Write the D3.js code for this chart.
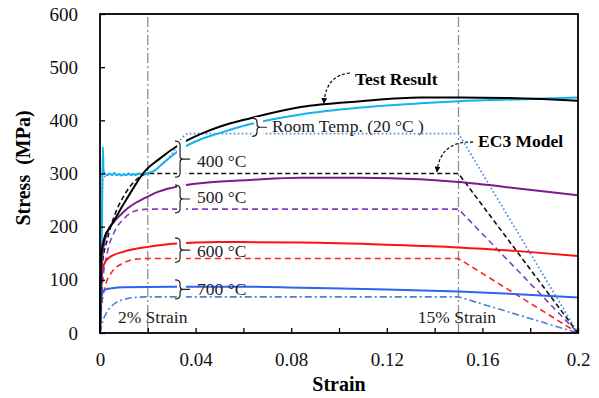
<!DOCTYPE html>
<html>
<head>
<meta charset="utf-8">
<script src="https://cdn.jsdelivr.net/npm/d3@7"></script>
</head>
<body style="margin:0; background:#fff">
<div id="chart"></div>
<script>

var width = 599,
    height = 398;

// test results [strain, stress MPa]
var testRoom = [[0,0],[0.0008,200],[0.0012,350],[0.0015,305],[0.002,300],[0.003,297],[0.004,300],[0.005,297],[0.006,301],
  [0.007,297],[0.008,299],[0.009,296],[0.010,299],[0.011,297],[0.012,300],[0.013,297],[0.014,299],[0.015,297],[0.016,300],
  [0.018,299],[0.02,301],[0.023,306],[0.026,318],[0.03,333],[0.0335,345],[0.042,364],[0.05,376],[0.063,393],
  [0.084,411],[0.109,424],[0.134,432],[0.15,436],[0.18,440],[0.2,443]];
var test400 = [[0,0],[0.0006,150],[0.002,181],[0.004,198],[0.006,212],[0.009,236],[0.0117,256],[0.015,280],[0.018,300],
  [0.025,328],[0.0335,355],[0.042,374],[0.05,388],[0.063,404],[0.084,425],[0.109,436],[0.134,443],
  [0.15,443],[0.17,442],[0.185,440],[0.2,437]];
var test500 = [[0,0],[0.0008,130],[0.0015,163],[0.003,188],[0.006,210],[0.009,224],[0.0117,235],[0.015,245],[0.0188,254],
  [0.024,265],[0.03,273],[0.045,283],[0.063,288],[0.084,292],[0.109,292],[0.134,289],[0.15,284],[0.175,272],[0.2,259]];
var test600 = [[0,0],[0.0006,100],[0.001,118],[0.002,132],[0.0042,143],[0.01,153],[0.02,162],[0.0305,168],[0.05,171],
  [0.084,170],[0.12,166],[0.15,161],[0.175,154],[0.2,145]];
var test700 = [[0,0],[0.0005,60],[0.001,75],[0.002,81],[0.005,84],[0.01,86],[0.03,87],[0.06,87],[0.084,85],[0.12,82],
  [0.15,78],[0.175,73],[0.2,67]];

// EC3 model curves
var ecRoom = [[0,0],[0.0012,288],[0.003,297],[0.01,298],[0.02,300],[0.025,314],[0.03,336],[0.033,358],
  [0.0355,372],[0.037,375],[0.15,375],[0.2,0]];
var ec400 = [[0,0],[0.001,130],[0.003,175],[0.006,220],[0.01,258],[0.014,283],[0.018,297],[0.02,300],[0.15,300],[0.2,0]];
var ec500 = [[0,0],[0.001,90],[0.003,150],[0.006,190],[0.01,215],[0.015,230],[0.02,233],[0.15,233],[0.2,0]];
var ec600 = [[0,0],[0.0005,40],[0.002,85],[0.005,115],[0.01,132],[0.015,139],[0.02,140],[0.15,140],[0.2,0]];
var ec700 = [[0,0],[0.001,20],[0.003,40],[0.006,55],[0.01,63],[0.015,67],[0.02,68],[0.15,68],[0.2,0]];

var xTicks = [0,0.02,0.04,0.06,0.08,0.1,0.12,0.14,0.16,0.18,0.2];
var yTicks = [0,100,200,300,400,500,600];
var refStrains = [0.02, 0.15];
var refLabels = ["2% Strain", "15% Strain"];

// brace labels: label, top / bottom stress of the brace, text baseline stress
var braceNames = ["Room Temp. (20 °C )", "400 °C", "500 °C", "600 °C", "700 °C"];
var braceTop = [404, 361, 278, 179, 100];
var braceBottom = [370, 293, 226, 133, 64];
var braceText = [378, 312, 244, 143, 71];
var braceStrain = [0.0657, 0.0335, 0.0335, 0.0335, 0.0335];

var x = d3.scaleLinear().domain([0, 0.2]).range([100, 578]);
var y = d3.scaleLinear().domain([0, 600]).range([333, 14]);

var svg = d3.select("#chart").append("svg")
    .attr("width", width)
    .attr("height", height);

svg.append("defs").append("marker")
    .attr("id", "head")
    .attr("viewBox", "0 0 10 10")
    .attr("refX", 8).attr("refY", 5)
    .attr("markerWidth", 6).attr("markerHeight", 6)
    .attr("markerUnits", "userSpaceOnUse")
    .attr("orient", "auto")
  .append("path")
    .attr("d", "M0,0 L10,5 L0,10 z")
    .attr("fill", "#000");

// reference strain lines
svg.selectAll(".ref")
    .data(refStrains)
  .enter().append("line")
    .attr("x1", d => x(d)).attr("x2", d => x(d))
    .attr("y1", y(0)).attr("y2", y(600))
    .attr("stroke", "#8c8c8c")
    .attr("stroke-width", 1.3)
    .attr("stroke-dasharray", "10,3,2,3");

var smooth = d3.line().x(d => x(d[0])).y(d => y(d[1])).curve(d3.curveMonotoneX);
var straight = d3.line().x(d => x(d[0])).y(d => y(d[1]));

// EC3: smooth rise, then plateau and straight drop
function ecPath(pts) {
  var k = pts.length - 2;
  return smooth(pts.slice(0, k)) + straight(pts.slice(k - 1)).replace("M", "L");
}

var models = [
  {pts: ec700, color: "#4a7fd6", dash: "7,3,2,3", w: 1.6},
  {pts: ec600, color: "#ff2020", dash: "6,4", w: 1.6},
  {pts: ec500, color: "#8040c0", dash: "6,4", w: 1.6},
  {pts: ec400, color: "#111", dash: "5,3", w: 1.6},
  {pts: ecRoom, color: "#4a8ee0", dash: "1.6,2.4", w: 1.8}
];
models.forEach(function(m) {
  svg.append("path")
      .attr("d", ecPath(m.pts))
      .attr("fill", "none")
      .attr("stroke", m.color)
      .attr("stroke-width", m.w)
      .attr("stroke-dasharray", m.dash);
});

var tests = [
  {pts: test700, color: "#2f63f0"},
  {pts: test600, color: "#ff1010"},
  {pts: test500, color: "#7a1a8c"},
  {pts: testRoom, color: "#12b4f0"},
  {pts: test400, color: "#000"}
];
tests.forEach(function(t) {
  svg.append("path")
      .attr("d", smooth(t.pts))
      .attr("fill", "none")
      .attr("stroke", t.color)
      .attr("stroke-width", 2);
});

// braces with labels
braceNames.forEach(function(name, i) {
  var bx = x(braceStrain[i]), t = y(braceTop[i]), b = y(braceBottom[i]), m = (t + b) / 2;
  svg.append("rect")
      .attr("x", bx - 3).attr("y", t - 1)
      .attr("width", 9).attr("height", b - t + 2)
      .attr("fill", "#fff");
  svg.append("path")
      .attr("d", "M" + (bx - 5) + "," + t + " Q" + bx + "," + t + " " + bx + "," + (t + 4) +
                 " L" + bx + "," + (m - 3) + " Q" + bx + "," + m + " " + (bx + 3) + "," + m +
                 " Q" + bx + "," + m + " " + bx + "," + (m + 3) +
                 " L" + bx + "," + (b - 4) + " Q" + bx + "," + b + " " + (bx - 5) + "," + b +
                 " M" + (bx + 3) + "," + m + " L" + (bx + 10) + "," + m)
      .attr("fill", "none")
      .attr("stroke", "#222")
      .attr("stroke-width", 1.2);
  svg.append("text")
      .attr("x", bx + (i == 0 ? 15 : 17))
      .attr("y", y(braceText[i]))
      .attr("font-size", 17.5)
      .attr("fill", "#222")
      .text(name);
});

// strain labels
svg.selectAll(".reflab")
    .data(refLabels)
  .enter().append("text")
    .attr("x", (d, i) => i == 0 ? x(0.0075) : x(0.133))
    .attr("y", y(18.8))
    .attr("font-size", 17.5)
    .attr("fill", "#222")
    .text(d => d);

// callouts
var arrows = [
  {from: [0.1046, 489], ctrl: [0.0946, 485], to: [0.0937, 433], text: "Test Result", at: [0.1067, 466]},
  {from: [0.1561, 359], ctrl: [0.1425, 362], to: [0.141, 304], text: "EC3 Model", at: [0.1582, 350]}
];
arrows.forEach(function(a) {
  svg.append("path")
      .attr("d", "M" + x(a.from[0]) + "," + y(a.from[1]) + " Q" + x(a.ctrl[0]) + "," + y(a.ctrl[1]) +
                 " " + x(a.to[0]) + "," + y(a.to[1]))
      .attr("fill", "none")
      .attr("stroke", "#000")
      .attr("stroke-width", 1.2)
      .attr("stroke-dasharray", "3,2")
      .attr("marker-end", "url(#head)");
  svg.append("text")
      .attr("x", x(a.at[0])).attr("y", y(a.at[1]))
      .attr("font-size", 17.5)
      .attr("font-weight", "bold")
      .text(a.text);
});

// axes
var xAxis = d3.axisBottom(x)
    .tickValues(xTicks)
    .tickSizeInner(-5).tickSizeOuter(0)
    .tickFormat((d, i) => i % 2 ? "" : d3.format("~g")(+d.toFixed(2)));
var gx = svg.append("g")
    .attr("transform", "translate(0," + y(0) + ")")
    .call(xAxis);
gx.selectAll("text").attr("y", 20).attr("font-size", 19).attr("fill", "#111");

var yAxis = d3.axisLeft(y)
    .tickValues(yTicks)
    .tickSizeInner(-5).tickSizeOuter(0);
var gy = svg.append("g")
    .attr("transform", "translate(" + x(0) + ",0)")
    .call(yAxis);
gy.selectAll("text").attr("x", -22).attr("font-size", 19).attr("fill", "#111");

svg.selectAll(".domain").remove();
svg.selectAll(".tick line").attr("stroke", "#000").attr("stroke-width", 1.3);

// frame
svg.append("rect")
    .attr("x", x(0)).attr("y", y(600))
    .attr("width", x(0.2) - x(0)).attr("height", y(0) - y(600))
    .attr("fill", "none")
    .attr("stroke", "#000")
    .attr("stroke-width", 1.8);

svg.append("text")
    .attr("x", x(0.1)).attr("y", 391)
    .attr("text-anchor", "middle")
    .attr("font-size", 20)
    .attr("font-weight", "bold")
    .text("Strain");

svg.append("text")
    .attr("transform", "translate(30,168) rotate(-90)")
    .attr("text-anchor", "middle")
    .attr("font-size", 20)
    .attr("font-weight", "bold")
    .style("white-space", "pre")
    .text("Stress  (MPa)");

svg.selectAll("text").style("font-family", "'Liberation Serif'");

</script>
</body>
</html>
